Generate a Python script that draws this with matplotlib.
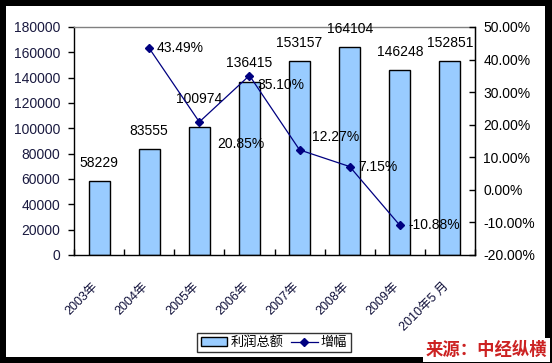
import matplotlib
matplotlib.use("Agg")
import matplotlib.pyplot as plt
from matplotlib.patches import Rectangle, Patch
from matplotlib.lines import Line2D
from matplotlib.ticker import FuncFormatter, FixedLocator
import numpy as np

plt.rcParams['font.family'] = ['Liberation Sans', 'Noto Sans CJK SC', 'DejaVu Sans']

categories = ["2003年", "2004年", "2005年", "2006年", "2007年", "2008年", "2009年", "2010年5 月"]
profit = [58229, 83555, 100974, 136415, 153157, 164104, 146248, 152851]
growth = [None, 43.49, 20.85, 35.10, 12.27, 7.15, -10.88, None]
growth_labels = ["", "43.49%", "20.85%", "35.10%", "12.27%", "7.15%", "-10.88%", ""]

W, H = 552, 363
fig = plt.figure(figsize=(W / 100, H / 100), dpi=100)
fig.patch.set_facecolor('black')
fig.add_artist(Rectangle((6 / W, 6 / H), 539 / W, 351 / H, transform=fig.transFigure,
                         facecolor='white', edgecolor='none', zorder=0))

ax = fig.add_axes([74 / W, (H - 255) / H, 401 / W, 228 / H])
ax.set_facecolor('white')
x = np.arange(len(categories))
ax.bar(x, profit, width=0.42, color='#99CCFF', edgecolor='black', linewidth=1.0, zorder=2)
ax.set_xlim(-0.5, len(categories) - 0.5)
ax.set_ylim(0, 180000)
ax.set_yticks(np.arange(0, 180001, 20000))
ax.tick_params(axis='y', direction='out', length=4, width=1, labelsize=10, colors='black',
               labelcolor='#1a1a40', pad=6)
ax.set_xticks(x)
ax.set_xticklabels([])
ax.xaxis.set_minor_locator(FixedLocator(np.arange(-0.5, len(categories), 1.0)))
ax.tick_params(axis='x', which='major', length=0)
ax.tick_params(axis='x', which='minor', direction='in', length=4, width=1)
for s in ['left', 'bottom', 'right']:
    ax.spines[s].set_color('black')
    ax.spines[s].set_linewidth(1)
ax.spines['top'].set_color('#808080')
ax.spines['top'].set_linewidth(1)

# bar value labels
bar_offsets = [13, 13, 20, 14, 13, 13, 13, 13]
for xi, v, off in zip(x, profit, bar_offsets):
    ax.annotate(f"{v}", (xi, v), xytext=(0, off), textcoords='offset points',
                ha='center', va='center', fontsize=10, color='black', zorder=5)

# x tick labels rotated
for xi, lab in zip(x, categories):
    ax.annotate(lab, (xi, 0), xytext=(-2, -21), textcoords='offset points',
                ha='right', va='center', rotation=45, rotation_mode='anchor',
                fontsize=9, color='#10103a', annotation_clip=False)

ax2 = ax.twinx()
ax2.set_ylim(-20, 50)
ax2.set_yticks(np.arange(-20, 51, 10))
ax2.yaxis.set_major_formatter(FuncFormatter(lambda v, p: f"{v:.2f}%"))
ax2.tick_params(axis='y', direction='in', length=4, width=1, labelsize=10, colors='black', pad=6)
for s in ['left', 'bottom', 'top']:
    ax2.spines[s].set_visible(False)
ax2.spines['right'].set_color('black')

gx = [xi for xi, g in zip(x, growth) if g is not None]
gy = [g for g in growth if g is not None]
ax2.plot(gx, gy, color='#000080', linewidth=0.9, marker='D', markersize=4.5,
         markerfacecolor='#000080', markeredgecolor='#000080', zorder=4)
lab_offsets = {1: (5, 0), 2: (13, -16), 3: (6, -7), 4: (9, 9), 5: (6, 0), 6: (6, 0)}
for xi, g, lab in zip(x, growth, growth_labels):
    if g is None:
        continue
    dx, dy = lab_offsets[xi]
    ax2.annotate(lab, (xi, g), xytext=(dx, dy), textcoords='offset points',
                 ha='left', va='center', fontsize=10, color='black', zorder=5)

# legend
handles = [Patch(facecolor='#99CCFF', edgecolor='black', linewidth=1.0),
           Line2D([0], [0], color='#000080', linewidth=0.9, marker='D', markersize=4)]
leg = fig.legend(handles, ['利润总额', '增幅'], loc='center',
                 bbox_to_anchor=(274 / W, (H - 342.5) / H),
                 ncol=2, frameon=True, fancybox=False, edgecolor='black',
                 handlelength=2.0, handleheight=0.6, handletextpad=0.25, columnspacing=0.6,
                 borderpad=0.25, borderaxespad=0,
                 prop={'family': ['Noto Sans CJK SC'], 'size': 9.5})
leg.get_frame().set_linewidth(1)

fig.text(547 / W, (H - 350) / H, '来源：中经纵横', ha='right', va='center', fontsize=12.5,
         fontweight='bold', color='#CC2222', family=['Noto Sans CJK SC'],
         bbox=dict(facecolor='white', edgecolor='none', pad=2))

fig.savefig('out.png', dpi=100, facecolor=fig.get_facecolor())
